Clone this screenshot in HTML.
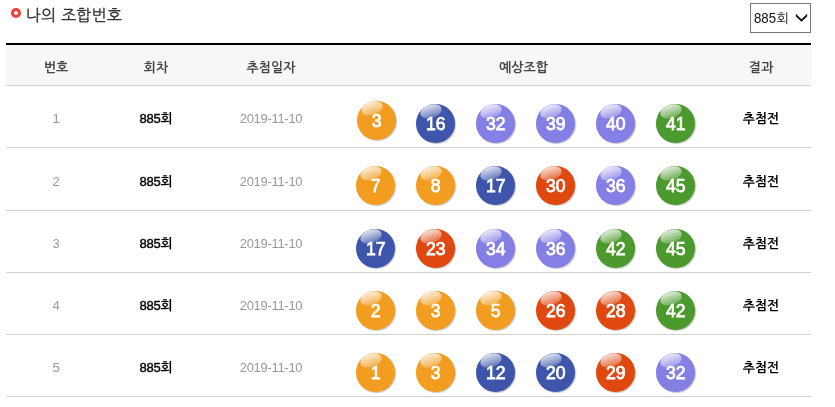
<!DOCTYPE html>
<html lang="ko">
<head>
<meta charset="utf-8">
<title>나의 조합번호</title>
<style>
html,body{margin:0;padding:0;background:#fff;}
body{width:835px;height:407px;position:relative;overflow:hidden;
  font-family:"Liberation Sans","NanumGothic","Noto Sans CJK KR",sans-serif;font-size:13px;color:#000;}
.title{position:absolute;left:25.7px;top:6px;height:20px;line-height:20px;font-size:16px;color:#333;-webkit-text-stroke:.3px #333;letter-spacing:.25px;white-space:nowrap;}
.bul{position:absolute;left:11px;top:8px;width:10px;height:10px;border-radius:50%;background:#f03f3a;}
.bul::after{content:"";position:absolute;left:3px;top:3px;width:4px;height:4px;border-radius:50%;background:#fff;}
.sel{position:absolute;left:750px;top:3px;width:61px;height:30px;box-sizing:border-box;border:1px solid #767676;background:#fff;}
.sel span{position:absolute;left:3px;top:0;line-height:28px;height:28px;color:#111;white-space:nowrap;font-size:13px;}
.sel span em{font-style:normal;font-size:14.5px;display:inline-block;transform:scaleX(.91);transform-origin:0 50%;margin-right:-1.6px;position:relative;top:0px;}
.sel svg{position:absolute;left:44px;top:9px;}
table{position:absolute;left:6px;top:43px;width:805px;border-collapse:collapse;table-layout:fixed;border-top:2px solid #000;}
th,td{padding:0;text-align:center;vertical-align:middle;border-bottom:1px solid #d2d2d2;white-space:nowrap;}
th{height:40px;background:#f7f7f7;font-weight:bold;color:#444;font-size:13px;}
th span,td>span{position:relative;top:2px;display:inline-block;}
td.rd span{letter-spacing:-.25px}
td.rd span em{font-style:normal;font-weight:normal;-webkit-text-stroke:.4px #000;}
td.dt span{letter-spacing:-.3px}
td{height:61px;font-size:13px;position:relative;}
tr.r2 td{height:62px;}
td.no{color:#999;}
td.rd{font-weight:bold;color:#000;}
td.dt{color:#999;}
td.rs{font-weight:bold;color:#000;}
td.bc{vertical-align:top;}
.balls{position:relative;height:61px;}
.b{position:absolute;top:18px;width:38.5px;height:38.5px;border-radius:50%;color:#fff;font-weight:normal;-webkit-text-stroke:.75px #fff;font-size:17.6px;line-height:38px;text-align:center;box-shadow:1px 1px 1px rgba(0,0,0,.22);}
.b i{position:absolute;left:4px;top:.8px;width:21.6px;height:12.8px;border-radius:50%;background:linear-gradient(to bottom,rgba(255,255,255,.82),rgba(255,255,255,.2));transform:rotate(-18deg);}
.b span{position:relative;top:1px;left:.5px;display:inline-block;}
.b1{left:20px}.b2{left:80px}.b3{left:140px}.b4{left:200px}.b5{left:260px}.b6{left:320px}
.y{background:#f29c20}.bl{background:#3e55ab}.p{background:#857ee4}.r{background:#df480e}.g{background:#4c992e}
</style>
</head>
<body>
<div class="bul"></div>
<div class="title">나의 조합번호</div>
<div class="sel"><span><em>885</em>회</span><svg width="14" height="10" viewBox="0 0 14 10"><polygon points="0.85,0.82 6.5,6.19 12.15,0.82 12.15,3.44 6.5,8.81 0.85,3.44" fill="#111"/></svg></div>
<table>
<colgroup><col style="width:100px"><col style="width:100px"><col style="width:130px"><col style="width:375px"><col style="width:100px"></colgroup>
<thead><tr><th><span>번호</span></th><th><span>회차</span></th><th><span>추첨일자</span></th><th><span>예상조합</span></th><th><span>결과</span></th></tr></thead>
<tbody>
<tr><td class="no"><span>1</span></td><td class="rd"><span><em>885</em>회</span></td><td class="dt"><span>2019-11-10</span></td><td class="bc"><div class="balls"><div class="b b1 y" style="left:21px;top:15px"><i></i><span>3</span></div><div class="b b2 bl"><i></i><span>16</span></div><div class="b b3 p"><i></i><span>32</span></div><div class="b b4 p"><i></i><span>39</span></div><div class="b b5 p"><i></i><span>40</span></div><div class="b b6 g"><i></i><span>41</span></div></div></td><td class="rs"><span>추첨전</span></td></tr>
<tr class="r2"><td class="no"><span>2</span></td><td class="rd"><span><em>885</em>회</span></td><td class="dt"><span>2019-11-10</span></td><td class="bc"><div class="balls"><div class="b b1 y"><i></i><span>7</span></div><div class="b b2 y"><i></i><span>8</span></div><div class="b b3 bl"><i></i><span>17</span></div><div class="b b4 r"><i></i><span>30</span></div><div class="b b5 p"><i></i><span>36</span></div><div class="b b6 g"><i></i><span>45</span></div></div></td><td class="rs"><span>추첨전</span></td></tr>
<tr><td class="no"><span>3</span></td><td class="rd"><span><em>885</em>회</span></td><td class="dt"><span>2019-11-10</span></td><td class="bc"><div class="balls"><div class="b b1 bl"><i></i><span>17</span></div><div class="b b2 r"><i></i><span>23</span></div><div class="b b3 p"><i></i><span>34</span></div><div class="b b4 p"><i></i><span>36</span></div><div class="b b5 g"><i></i><span>42</span></div><div class="b b6 g"><i></i><span>45</span></div></div></td><td class="rs"><span>추첨전</span></td></tr>
<tr><td class="no"><span>4</span></td><td class="rd"><span><em>885</em>회</span></td><td class="dt"><span>2019-11-10</span></td><td class="bc"><div class="balls"><div class="b b1 y"><i></i><span>2</span></div><div class="b b2 y"><i></i><span>3</span></div><div class="b b3 y"><i></i><span>5</span></div><div class="b b4 r"><i></i><span>26</span></div><div class="b b5 r"><i></i><span>28</span></div><div class="b b6 g"><i></i><span>42</span></div></div></td><td class="rs"><span>추첨전</span></td></tr>
<tr><td class="no"><span>5</span></td><td class="rd"><span><em>885</em>회</span></td><td class="dt"><span>2019-11-10</span></td><td class="bc"><div class="balls"><div class="b b1 y"><i></i><span>1</span></div><div class="b b2 y"><i></i><span>3</span></div><div class="b b3 bl"><i></i><span>12</span></div><div class="b b4 bl"><i></i><span>20</span></div><div class="b b5 r"><i></i><span>29</span></div><div class="b b6 p"><i></i><span>32</span></div></div></td><td class="rs"><span>추첨전</span></td></tr>
</tbody>
</table>
</body>
</html>
